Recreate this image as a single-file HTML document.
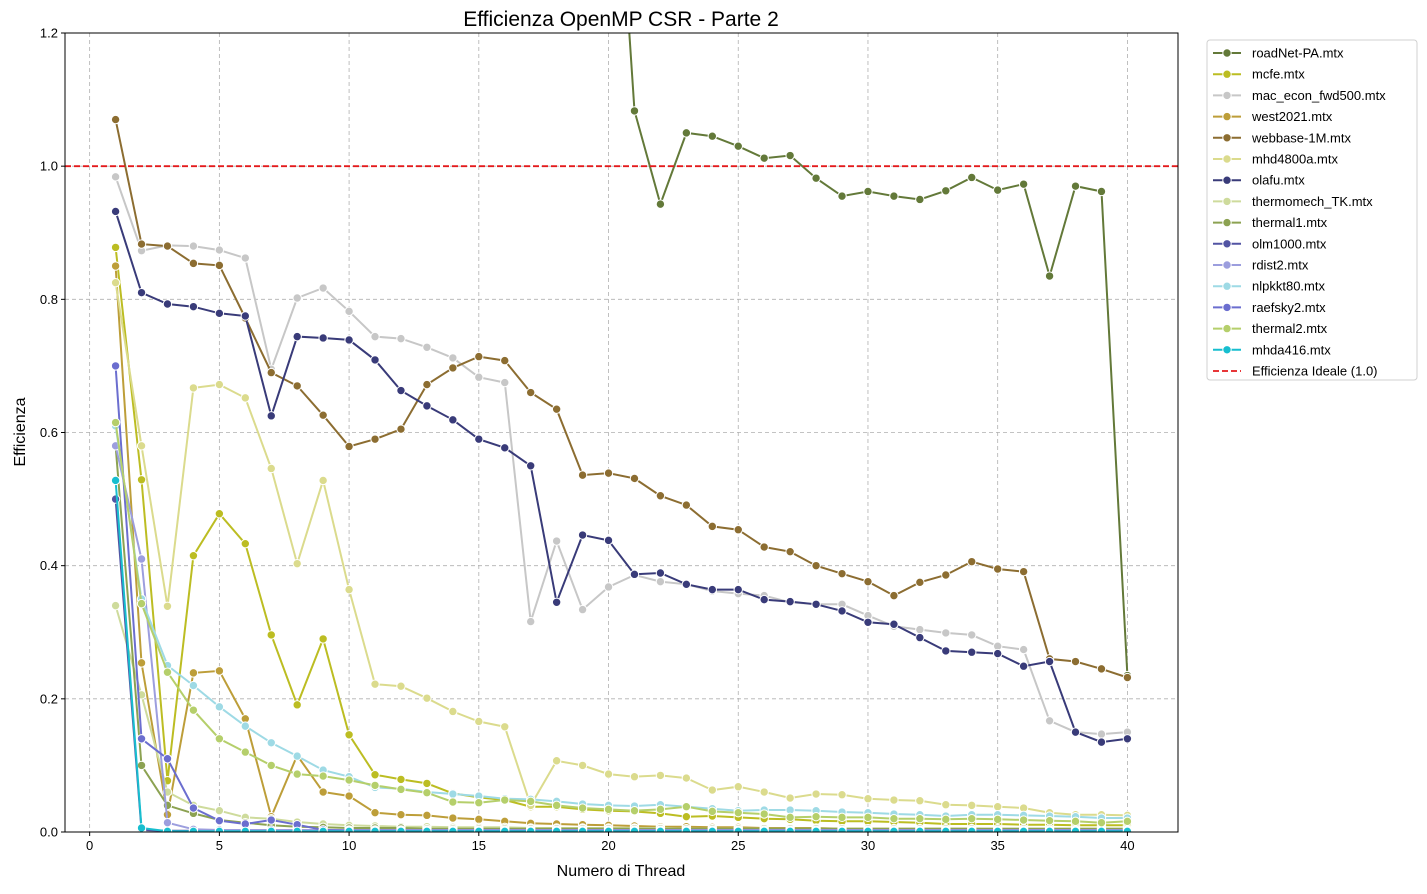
<!DOCTYPE html>
<html><head><meta charset="utf-8"><style>
html,body{margin:0;padding:0;background:#fff;}
svg text{font-family:"Liberation Sans","DejaVu Sans",sans-serif;fill:#000;}
</style></head><body>
<svg id="chart" width="1427" height="889" xmlns="http://www.w3.org/2000/svg">
<text x="621" y="26" font-size="21" text-anchor="middle">Efficienza OpenMP CSR - Parte 2</text>
<g id="grid"></g>
<defs><clipPath id="clip"><rect x="65" y="33" width="1113" height="799"/></clipPath></defs>
<g id="series" clip-path="url(#clip)"></g>
<rect x="65" y="33" width="1113" height="799" fill="none" stroke="#000" stroke-width="1"/>
<g id="axes"></g>
<text x="621" y="876" font-size="16" text-anchor="middle">Numero di Thread</text>
<text transform="translate(25,432) rotate(-90)" font-size="16" text-anchor="middle">Efficienza</text>
<g id="legend"></g>
</svg>
<script>
const threads = Array.from({length:40},(_,i)=>i+1);
const names = ["roadNet-PA.mtx","mcfe.mtx","mac_econ_fwd500.mtx","west2021.mtx","webbase-1M.mtx","mhd4800a.mtx","olafu.mtx","thermomech_TK.mtx","thermal1.mtx","olm1000.mtx","rdist2.mtx","nlpkkt80.mtx","raefsky2.mtx","thermal2.mtx","mhda416.mtx"];
const colors = ["#637939","#bcbd22","#c7c7c7","#bd9e39","#8c6d31","#dbdb8d","#393b79","#cedb9c","#8ca252","#5254a3","#9c9ede","#9edae5","#6b6ecf","#b5cf6b","#17becf"];
const roadNet = [8,5,4,3.5,3,2.8,2.6,2.5,2.4,2.3,2.2,2.1,2.0,1.95,1.9,1.85,1.8,1.75,1.7,1.67,1.083,0.943,1.05,1.045,1.03,1.012,1.016,0.982,0.955,0.962,0.955,0.95,0.963,0.983,0.964,0.973,0.835,0.97,0.962,0.235];
const mcfe = [0.878,0.529,0.077,0.415,0.478,0.433,0.296,0.191,0.29,0.146,0.086,0.079,0.073,0.058,0.052,0.048,0.038,0.038,0.034,0.032,0.031,0.028,0.023,0.024,0.022,0.02,0.019,0.017,0.016,0.016,0.015,0.014,0.012,0.012,0.012,0.011,0.011,0.01,0.01,0.01];
const macEcon = [0.984,0.873,0.881,0.88,0.874,0.862,0.695,0.802,0.817,0.782,0.744,0.741,0.728,0.712,0.683,0.675,0.316,0.437,0.334,0.368,0.386,0.376,0.372,0.362,0.358,0.355,0.345,0.342,0.342,0.325,0.309,0.304,0.299,0.296,0.279,0.274,0.167,0.15,0.147,0.15];
const west2021 = [0.85,0.254,0.026,0.239,0.242,0.17,0.023,0.115,0.06,0.054,0.029,0.026,0.025,0.021,0.019,0.016,0.013,0.012,0.011,0.01,0.009,0.008,0.008,0.007,0.007,0.006,0.006,0.006,0.005,0.005,0.005,0.005,0.005,0.005,0.004,0.004,0.004,0.004,0.004,0.004];
const webbase = [1.07,0.883,0.88,0.854,0.851,0.772,0.69,0.67,0.626,0.579,0.59,0.605,0.672,0.697,0.714,0.708,0.66,0.635,0.536,0.539,0.531,0.505,0.491,0.459,0.454,0.428,0.421,0.4,0.388,0.376,0.355,0.375,0.386,0.406,0.395,0.391,0.26,0.256,0.245,0.232];
const mhd4800a = [0.825,0.58,0.339,0.667,0.672,0.652,0.546,0.403,0.528,0.364,0.222,0.219,0.201,0.181,0.166,0.158,0.04,0.107,0.1,0.087,0.083,0.085,0.081,0.063,0.068,0.06,0.051,0.057,0.056,0.05,0.048,0.047,0.041,0.04,0.038,0.036,0.029,0.026,0.026,0.025];
const olafu = [0.932,0.81,0.793,0.789,0.779,0.775,0.625,0.744,0.742,0.739,0.709,0.663,0.64,0.619,0.59,0.577,0.55,0.345,0.446,0.438,0.387,0.389,0.372,0.364,0.364,0.349,0.346,0.342,0.332,0.315,0.312,0.292,0.272,0.27,0.268,0.249,0.256,0.15,0.135,0.14];
const thermomech = [0.34,0.206,0.06,0.04,0.032,0.022,0.02,0.015,0.012,0.01,0.009,0.008,0.008,0.007,0.007,0.007,0.006,0.006,0.006,0.006,0.006,0.006,0.005,0.005,0.005,0.005,0.005,0.005,0.005,0.005,0.005,0.005,0.005,0.005,0.005,0.005,0.005,0.005,0.005,0.005];
const thermal1 = [0.58,0.1,0.04,0.028,0.018,0.014,0.01,0.008,0.007,0.006,0.006,0.006,0.005,0.005,0.005,0.005,0.005,0.005,0.005,0.005,0.005,0.005,0.005,0.005,0.005,0.005,0.005,0.005,0.005,0.005,0.005,0.005,0.005,0.005,0.005,0.005,0.005,0.005,0.005,0.005];
const olm1000 = [0.5,0.003,0.002,0.002,0.002,0.002,0.002,0.002,0.002,0.002,0.002,0.002,0.002,0.002,0.002,0.002,0.002,0.002,0.002,0.002,0.002,0.002,0.002,0.002,0.002,0.002,0.002,0.002,0.002,0.002,0.002,0.002,0.002,0.002,0.002,0.002,0.002,0.002,0.002,0.002];
const rdist2 = [0.58,0.41,0.014,0.004,0.003,0.003,0.003,0.003,0.003,0.003,0.003,0.003,0.003,0.003,0.003,0.003,0.003,0.003,0.003,0.003,0.003,0.003,0.003,0.003,0.003,0.003,0.003,0.003,0.003,0.003,0.003,0.003,0.003,0.003,0.003,0.003,0.003,0.003,0.003,0.003];
const nlpkkt80 = [0.61,0.35,0.25,0.22,0.188,0.159,0.134,0.114,0.093,0.083,0.067,0.065,0.06,0.057,0.054,0.05,0.049,0.046,0.042,0.04,0.039,0.041,0.038,0.035,0.032,0.033,0.033,0.032,0.03,0.029,0.027,0.026,0.024,0.026,0.026,0.025,0.024,0.023,0.021,0.021];
const raefsky2 = [0.7,0.14,0.11,0.036,0.017,0.012,0.018,0.011,0.003,0.002,0.002,0.002,0.002,0.002,0.002,0.002,0.002,0.002,0.002,0.002,0.002,0.002,0.002,0.002,0.002,0.002,0.002,0.002,0.002,0.002,0.002,0.002,0.002,0.002,0.002,0.002,0.002,0.002,0.002,0.002];
const thermal2 = [0.615,0.343,0.24,0.183,0.14,0.12,0.1,0.087,0.084,0.078,0.07,0.064,0.059,0.045,0.044,0.048,0.046,0.04,0.036,0.034,0.032,0.034,0.038,0.031,0.029,0.027,0.022,0.023,0.022,0.022,0.02,0.02,0.019,0.02,0.019,0.018,0.017,0.016,0.014,0.016];
const mhda416 = [0.528,0.006,0.001,0.001,0.001,0.001,0.001,0.001,0.001,0.001,0.001,0.001,0.001,0.001,0.001,0.001,0.001,0.001,0.001,0.001,0.001,0.001,0.001,0.001,0.001,0.001,0.001,0.001,0.001,0.001,0.001,0.001,0.001,0.001,0.001,0.001,0.001,0.001,0.001,0.001];
const seriesValues = [roadNet,mcfe,macEcon,west2021,webbase,mhd4800a,olafu,thermomech,thermal1,olm1000,rdist2,nlpkkt80,raefsky2,thermal2,mhda416];
const xTicks = [0,5,10,15,20,25,30,35,40];
const yTicks = [0,0.2,0.4,0.6,0.8,1.0,1.2];
const yTickLabels = ["0.0","0.2","0.4","0.6","0.8","1.0","1.2"];
const idealValue = 1.0;

const NS="http://www.w3.org/2000/svg";
const X0=65,X1=1178,Y0=832,Y1=33,XMIN=-0.95,XMAX=41.95,YMIN=0,YMAX=1.2;
const xs=v=>X0+(v-XMIN)/(XMAX-XMIN)*(X1-X0);
const ys=v=>Y0-(v-YMIN)/(YMAX-YMIN)*(Y0-Y1);
function mk(tag,attrs,parent){const e=document.createElementNS(NS,tag);for(const k in attrs)e.setAttribute(k,attrs[k]);parent.appendChild(e);return e;}
const grid=document.getElementById('grid'),axes=document.getElementById('axes'),sg=document.getElementById('series'),lg=document.getElementById('legend');
xTicks.forEach(t=>{
  const l=mk('line',{x1:xs(t),x2:xs(t),y1:Y1,y2:Y0,stroke:'#b0b0b0','stroke-dasharray':'4,3','stroke-width':0.8},grid);
  
  
  mk('line',{x1:xs(t),x2:xs(t),y1:Y0,y2:Y0+4,stroke:'#000'},axes);
  const tx=mk('text',{x:xs(t),y:Y0+18,'font-size':13,'text-anchor':'middle'},axes);
  tx.textContent=t;
  
  
});
yTicks.forEach((t,i)=>{
  const l=mk('line',{x1:X0,x2:X1,y1:ys(t),y2:ys(t),stroke:'#b0b0b0','stroke-dasharray':'4,3','stroke-width':0.8},grid);
  
  
  mk('line',{x1:X0-4,x2:X0,y1:ys(t),y2:ys(t),stroke:'#000'},axes);
  const tx=mk('text',{x:X0-7,y:ys(t)+4.5,'font-size':13,'text-anchor':'end'},axes);
  tx.textContent=yTickLabels[i];
  
  
});
seriesValues.forEach((vals,si)=>{
  const g=mk('g',{},sg);
  
  
  const pts=vals.map((v,i)=>xs(threads[i]).toFixed(1)+','+ys(v).toFixed(1)).join(' ');
  mk('polyline',{points:pts,fill:'none',stroke:colors[si],'stroke-width':2},g);
  vals.forEach((v,i)=>{
    const c=mk('circle',{cx:xs(threads[i]),cy:ys(v),r:4.2,fill:colors[si],stroke:'#fff','stroke-width':1},g);
    
    
  });
});
const ideal=mk('line',{x1:X0,x2:X1,y1:ys(idealValue),y2:ys(idealValue),stroke:'#e41a1c','stroke-width':1.8,'stroke-dasharray':'6,3'},sg);


// legend
const box=mk('rect',{x:1207,y:40,width:210,height:340,rx:3,fill:'#fff',stroke:'#d0d0d0'},lg);


const labels=names.concat(["Efficienza Ideale (1.0)"]);
labels.forEach((n,i)=>{
  const y=53+i*21.2;
  const g=mk('g',{},lg);
  
  
  if(i<names.length){
    mk('line',{x1:1213,x2:1241,y1:y,y2:y,stroke:colors[i],'stroke-width':2},g);
    mk('circle',{cx:1227,cy:y,r:4.2,fill:colors[i],stroke:'#fff','stroke-width':1},g);
  } else {
    mk('line',{x1:1213,x2:1241,y1:y,y2:y,stroke:'#e41a1c','stroke-width':1.8,'stroke-dasharray':'6,3'},g);
  }
  const t=mk('text',{x:1252,y:y+4.5,'font-size':13},g);
  t.textContent=n;
});
</script>
</body></html>
